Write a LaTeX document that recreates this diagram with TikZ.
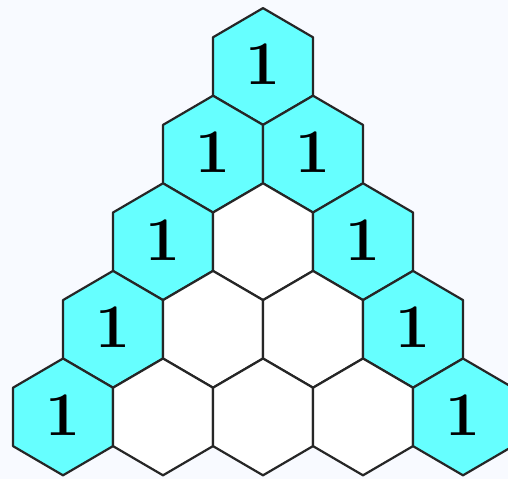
\documentclass[tikz,border=0pt]{standalone}
\usepackage{tikz}
\definecolor{cellcyan}{RGB}{102,255,255}
\definecolor{paper}{RGB}{248,250,255}
\tikzset{
  cell/.style={draw=black!85,line width=1.1pt,line join=round},
  digit/.style={font=\fontsize{31}{31}\selectfont\bfseries,inner sep=0pt}
}
\begin{document}
\begin{tikzpicture}[x=0.5pt,y=0.5pt]
  \fill[paper] (0,0) rectangle (508,479);
  \useasboundingbox (0,0) rectangle (508,479);
  \foreach \r in {0,...,4}{
    \foreach \k in {0,...,\r}{
      \coordinate (c\r\k) at ({263+(\k-\r/2)*100},{412.5-\r*87.6});
      \def\cellfill{white}
      \ifnum\k=0 \def\cellfill{cellcyan}\fi
      \ifnum\k=\r \def\cellfill{cellcyan}\fi
      \draw[cell,fill=\cellfill] (c\r\k) +(0,58.4) -- +(-50,29.2) -- +(-50,-29.2)
        -- +(0,-58.4) -- +(50,-29.2) -- +(50,29.2) -- cycle;
    }
  }
  \foreach \r in {0,...,4}{
    \node[digit] (one\r l) at ([yshift=1pt]c\r0) {1};
    \ifnum\r>0
      \node[digit] (one\r r) at ([yshift=1pt]c\r\r) {1};
    \fi
  }
\end{tikzpicture}
\end{document}
